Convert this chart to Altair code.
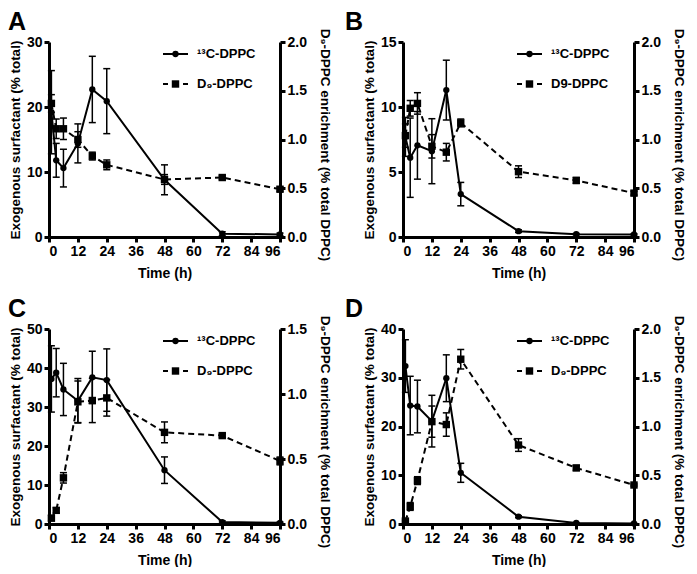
import altair as alt
import pandas as pd

FONT = "Liberation Sans"

TIME = [1, 3, 6, 12, 18, 24, 48, 72, 96]
X_TICKS = [0, 12, 24, 36, 48, 60, 72, 84, 96]

# Panel A
A_C13 = [19.2, 11.8, 10.6, 14.4, 22.7, 20.9, 8.8, 0.5, 0.4]
A_C13_ERR = [6.4, 2.6, 2.9, 3.0, 5.1, 5.0, 2.3, 0.3, 0.2]
A_D9 = [1.37, 1.11, 1.11, 1.00, 0.83, 0.74, 0.59, 0.61, 0.49]
A_D9_ERR = [0.09, 0.10, 0.11, 0.08, 0.04, 0.05, 0.05, 0.02, 0.02]

# Panel B
B_C13 = [7.7, 6.1, 7.05, 6.6, 11.3, 3.3, 0.45, 0.22, 0.2]
B_C13_ERR = [1.5, 3.05, 2.6, 2.5, 2.3, 0.9, 0.1, 0.05, 0.05]
B_D9 = [1.04, 1.32, 1.37, 0.93, 0.87, 1.17, 0.67, 0.58, 0.45]
B_D9_ERR = [0.12, 0.08, 0.11, 0.12, 0.09, 0.04, 0.06, 0.03, 0.02]

# Panel C
C_C13 = [37.2, 38.8, 34.5, 31.6, 37.6, 36.9, 13.8, 0.5, 0.3]
C_C13_ERR = [8.5, 6.2, 6.7, 5.7, 6.7, 8.0, 3.4, 0.3, 0.2]
C_D9 = [0.045, 0.105, 0.355, 0.94, 0.95, 0.97, 0.705, 0.68, 0.485]
C_D9_ERR = [0.02, 0.02, 0.04, 0.16, 0.17, 0.14, 0.08, 0.015, 0.03]

# Panel D
D_C13 = [32.4, 24.3, 24.1, 21.1, 29.9, 10.5, 1.5, 0.2, 0.1]
D_C13_ERR = [5.4, 6.0, 5.4, 5.3, 4.8, 1.95, 0.2, 0.1, 0.05]
D_D9 = [0.03, 0.18, 0.445, 1.05, 1.02, 1.69, 0.81, 0.575, 0.40]
D_D9_ERR = [0.01, 0.04, 0.04, 0.16, 0.12, 0.10, 0.065, 0.025, 0.01]

LEFT_TITLE = "Exogenous surfactant (% total)"
RIGHT_TITLE = "D\u2089-DPPC enrichment (% total  DPPC)"
C13_NAME = "\u00b9\u00b3C-DPPC"

W, H = 231, 195


def frame(vals, errs):
    return pd.DataFrame({
        "t": TIME,
        "v": vals,
        "lo": [v - e for v, e in zip(vals, errs)],
        "hi": [v + e for v, e in zip(vals, errs)],
    })


def panel(letter, letter_dx, c13, c13e, d9, d9e, lmax, lstep, rmax, d9_name):
    xenc = alt.X("t:Q", scale=alt.Scale(domain=[0, 96], nice=False, zero=True),
                 axis=alt.Axis(values=X_TICKS, title="Time (h)", titlePadding=8,
                               titleFontSize=14))
    lscale = alt.Scale(domain=[0, lmax], nice=False)
    laxis = alt.Axis(values=list(range(0, lmax + 1, lstep)), title=LEFT_TITLE,
                     orient="left", format="d", titlePadding=4)
    rscale = alt.Scale(domain=[0, rmax], nice=False)
    rvals = [i * 0.5 for i in range(int(rmax / 0.5) + 1)]
    raxis = alt.Axis(values=rvals, title=RIGHT_TITLE, orient="right",
                     format=".1f", titlePadding=11, titleY=H / 2 + 5)

    def ly(f):
        return alt.Y(f"{f}:Q", scale=lscale, axis=laxis)

    def ry(f):
        return alt.Y(f"{f}:Q", scale=rscale, axis=raxis)

    bc = alt.Chart(frame(c13, c13e))
    left = alt.layer(
        bc.mark_rule(color="black", strokeWidth=1.5).encode(x=xenc, y=ly("lo"), y2="hi:Q"),
        bc.mark_tick(orient="horizontal", size=7, thickness=1.5, color="black", opacity=1).encode(x=xenc, y=ly("lo")),
        bc.mark_tick(orient="horizontal", size=7, thickness=1.5, color="black", opacity=1).encode(x=xenc, y=ly("hi")),
        bc.mark_line(color="black", strokeWidth=2).encode(x=xenc, y=ly("v")),
        bc.mark_point(shape="circle", filled=True, size=40, color="black", opacity=1).encode(x=xenc, y=ly("v")),
    )
    bd = alt.Chart(frame(d9, d9e))
    right = alt.layer(
        bd.mark_rule(color="black", strokeWidth=1.5).encode(x=xenc, y=ry("lo"), y2="hi:Q"),
        bd.mark_tick(orient="horizontal", size=7, thickness=1.5, color="black", opacity=1).encode(x=xenc, y=ry("lo")),
        bd.mark_tick(orient="horizontal", size=7, thickness=1.5, color="black", opacity=1).encode(x=xenc, y=ry("hi")),
        bd.mark_line(color="black", strokeWidth=2, strokeDash=[6, 4]).encode(x=xenc, y=ry("v")),
        bd.mark_point(shape="square", filled=True, size=55, color="black", opacity=1).encode(x=xenc, y=ry("v")),
    )

    one = alt.Chart(pd.DataFrame({"k": [0]}))
    legend = alt.layer(
        one.mark_rule(color="black", strokeWidth=2).encode(x=alt.value(114), x2=alt.value(139), y=alt.value(12)),
        one.mark_point(shape="circle", filled=True, size=40, color="black", opacity=1).encode(x=alt.value(126.5), y=alt.value(12)),
        one.mark_text(text=C13_NAME, align="left", baseline="middle", fontSize=13, fontWeight="bold", font=FONT, color="black").encode(x=alt.value(148), y=alt.value(12)),
        one.mark_rule(color="black", strokeWidth=2, strokeDash=[5, 5]).encode(x=alt.value(114), x2=alt.value(139), y=alt.value(42)),
        one.mark_point(shape="square", filled=True, size=55, color="black", opacity=1).encode(x=alt.value(126.5), y=alt.value(42)),
        one.mark_text(text=d9_name, align="left", baseline="middle", fontSize=13, fontWeight="bold", font=FONT, color="black").encode(x=alt.value(148), y=alt.value(42)),
        one.mark_text(text=letter, align="left", baseline="top", fontSize=25, fontWeight="bold", font=FONT, color="black").encode(x=alt.value(letter_dx), y=alt.value(-32)),
    )

    return alt.layer(left, right, legend).resolve_scale(y="independent").properties(width=W, height=H)


pa = panel("A", -41, A_C13, A_C13_ERR, A_D9, A_D9_ERR, 30, 10, 2.0, "D\u2089-DPPC")
pb = panel("B", -58, B_C13, B_C13_ERR, B_D9, B_D9_ERR, 15, 5, 2.0, "D9-DPPC")
pc = panel("C", -41, C_C13, C_C13_ERR, C_D9, C_D9_ERR, 50, 10, 1.5, "D\u2089-DPPC")
pd_ = panel("D", -58, D_C13, D_C13_ERR, D_D9, D_D9_ERR, 40, 10, 2.0, "D\u2089-DPPC")

chart = alt.vconcat(
    alt.hconcat(pa, pb, spacing=13),
    alt.hconcat(pc, pd_, spacing=13),
    spacing=17,
).properties(padding={"top": 2, "left": 0, "right": 0, "bottom": 0}).configure_view(stroke=None).configure_axis(
    labelFont=FONT, titleFont=FONT, labelFontSize=14, titleFontSize=13.5,
    labelFontWeight="bold", titleFontWeight="bold", labelColor="black", titleColor="black",
    domainColor="black", domainWidth=3, tickColor="black", tickWidth=3, tickSize=5,
    grid=False, labelPadding=2,
)

chart.save("out.html", embed_options={"renderer": "svg", "actions": False})
